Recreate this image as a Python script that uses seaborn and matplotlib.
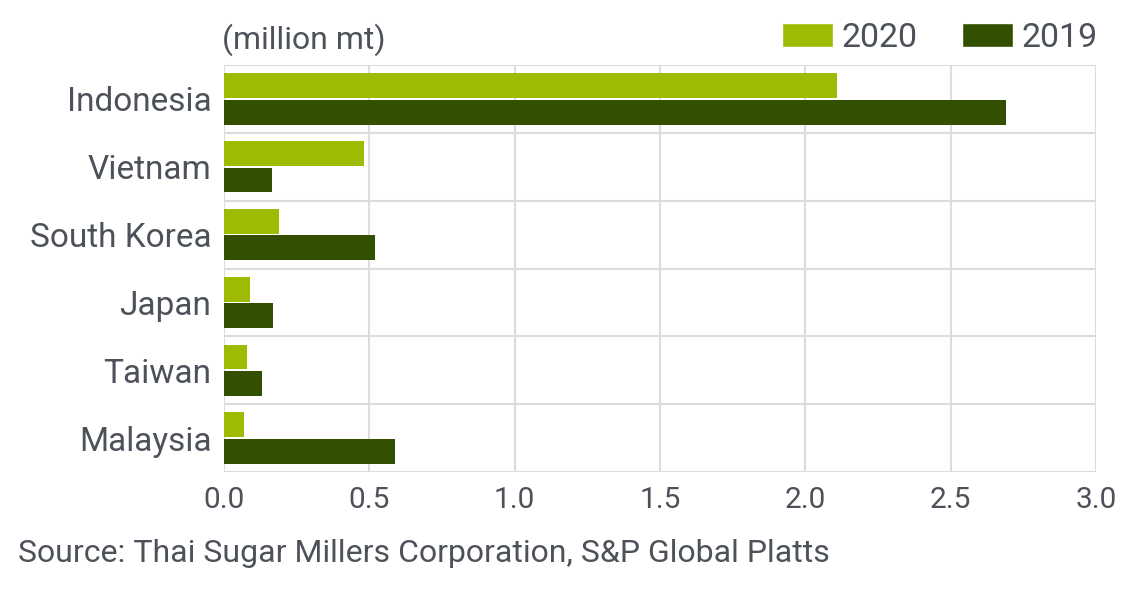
import numpy as np
import pandas as pd
import seaborn as sns
import matplotlib.pyplot as plt
from matplotlib.patches import Patch

# data (million mt)
countries = ["Indonesia", "Vietnam", "South Korea", "Japan", "Taiwan", "Malaysia"]
vals_2020 = [2.11, 0.48, 0.19, 0.09, 0.08, 0.07]
vals_2019 = [2.69, 0.165, 0.52, 0.17, 0.13, 0.59]
years = ["2020", "2019"]
xticks = [0.0, 0.5, 1.0, 1.5, 2.0, 2.5, 3.0]

df = pd.DataFrame({
    "country": countries * 2,
    "year": [years[0]] * len(countries) + [years[1]] * len(countries),
    "value": vals_2020 + vals_2019,
})

sns.set_style("white")
plt.rcParams["font.family"] = ["Roboto", "DejaVu Sans"]
txt = "#4d525a"
grid = "#dcdcdc"
palette = {"2020": "#9dbb00", "2019": "#325000"}

fig = plt.figure(figsize=(11.36, 5.94), dpi=100)
ax = fig.add_axes([224 / 1136, 1 - 472 / 594, (1096 - 224) / 1136, (472 - 65) / 594])

sns.barplot(data=df, y="country", x="value", hue="year", order=countries,
            hue_order=years, palette=palette, orient="h", width=0.78, gap=0.06,
            edgecolor="none", saturation=1, legend=False, ax=ax, zorder=3)

ax.set_xlim(0, 3.0)
ax.set_ylim(len(countries) - 0.5, -0.5)
ax.set_xticks(xticks)
ax.set_xticklabels([f"{t:.1f}" for t in xticks])
for x in xticks:
    ax.axvline(x, color=grid, lw=1.5, zorder=1)
for i in range(len(countries) + 1):
    ax.axhline(i - 0.5, color=grid, lw=1.5, zorder=1)
for s in ax.spines.values():
    s.set_visible(False)
ax.set_xlabel("")
ax.set_ylabel("")
ax.tick_params(axis="both", length=0, colors=txt)
ax.tick_params(axis="y", labelsize=24, pad=9)
ax.tick_params(axis="x", labelsize=21.5, pad=10)

fig.text(222 / 1136, 1 - 40 / 594, "(million mt)", fontsize=23, color=txt,
         va="center", ha="left")

# legend
handles = [Patch(facecolor=palette[y], label=y) for y in years]
fig.legend(handles=handles, loc="center right", bbox_to_anchor=(1128 / 1136, 1 - 38 / 594),
           ncol=2, frameon=False, fontsize=24.5, handlelength=1.5, handleheight=0.7,
           columnspacing=1.3, handletextpad=0.25, labelcolor=txt)

fig.text(18 / 1136, 1 - 553 / 594, "Source: Thai Sugar Millers Corporation, S&P Global Platts",
         fontsize=23, color=txt, va="center", ha="left")

fig.savefig("out.png", dpi=100)
